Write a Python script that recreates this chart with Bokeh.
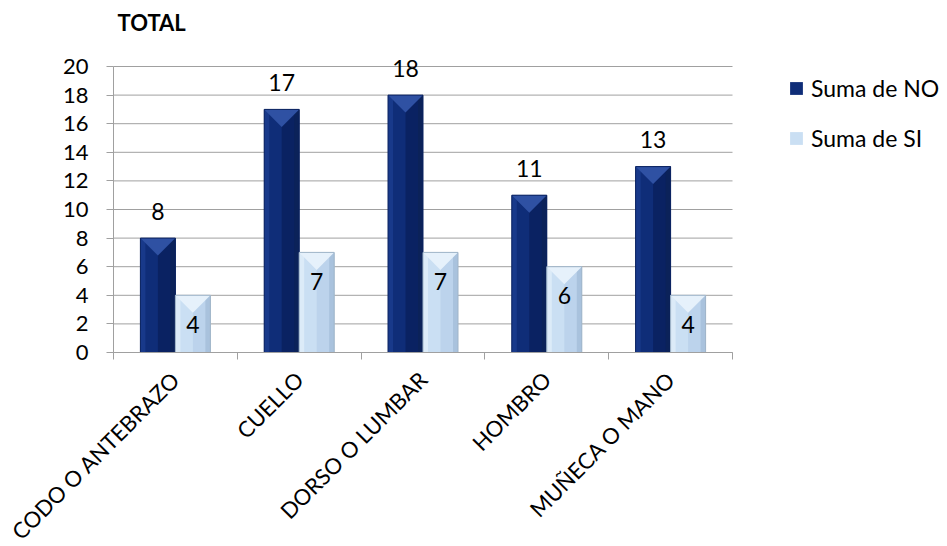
import math
from bokeh.plotting import figure
from bokeh.models import FixedTicker, LabelSet, Label, Legend, LegendItem, ColumnDataSource
from bokeh.core.properties import value
from bokeh.embed import file_html
from bokeh.resources import INLINE

# ---- data ----
categories = ["CODO O ANTEBRAZO", "CUELLO", "DORSO O LUMBAR", "HOMBRO", "MUÑECA O MANO"]
suma_no = [8, 17, 18, 11, 13]
suma_si = [4, 7, 7, 6, 4]
y_ticks = [0, 2, 4, 6, 8, 10, 12, 14, 16, 18, 20]
series_names = ["Suma de NO", "Suma de SI"]
chart_title = "TOTAL"

# ---- layout (pixels) ----
FONT = "Lato"
W, H = 947, 546
L, R, T, B = 113, 732, 66, 352   # plot area of the chart
N = len(categories)
PX_X = N / (R - L)
PX_Y = (y_ticks[-1] - y_ticks[0]) / (B - T)
X0, X1 = -0.5, N - 0.5

# the frame covers the whole canvas; axes are pinned inside it
p = figure(width=W, height=H,
           x_range=(X0 - L * PX_X, X0 + (W - L) * PX_X),
           y_range=(y_ticks[0] - (H - B) * PX_Y, y_ticks[0] + B * PX_Y),
           output_backend="svg", toolbar_location=None,
           min_border_left=0, min_border_right=0, min_border_top=0, min_border_bottom=0)
p.outline_line_color = None
p.background_fill_color = "white"
p.border_fill_color = "white"

AX = "#a0a0a0"

# x axis drawn at y=0: labels at centers, ticks at boundaries (minor ticks)
p.xaxis.fixed_location = y_ticks[0]
p.xaxis.bounds = (X0, X1)
p.xaxis.ticker = FixedTicker(ticks=list(range(N)), minor_ticks=[i - 0.5 for i in range(N + 1)])
p.xaxis.major_label_overrides = {i: c for i, c in enumerate(categories)}
p.xaxis.major_tick_line_color = None
p.xaxis.major_tick_out = 0
p.xaxis.major_tick_in = 0
p.xaxis.minor_tick_out = 7
p.xaxis.minor_tick_in = 0
p.xaxis.minor_tick_line_color = AX
p.xaxis.axis_line_color = AX
p.xaxis.major_label_orientation = math.pi / 4
p.xaxis.major_label_standoff = 16
p.xaxis.major_label_text_font = FONT
p.xaxis.major_label_text_font_size = "22px"
p.xaxis.major_label_text_color = "black"

p.yaxis.fixed_location = X0
p.yaxis.bounds = (y_ticks[0], y_ticks[-1])
p.yaxis.ticker = FixedTicker(ticks=y_ticks, minor_ticks=[])
p.yaxis.major_tick_out = 7
p.yaxis.major_tick_in = 0
p.yaxis.major_tick_line_color = AX
p.yaxis.axis_line_color = AX
p.yaxis.major_label_standoff = 18
p.yaxis.major_label_text_font = FONT
p.yaxis.major_label_text_font_size = "22px"
p.yaxis.major_label_text_color = "black"

p.xgrid.visible = False
p.ygrid.visible = False
# horizontal gridlines limited to the plot area
p.segment(x0=[X0] * len(y_ticks), x1=[X1] * len(y_ticks), y0=y_ticks, y1=y_ticks,
          line_color=AX, line_width=1)

BAR_W = 35 * PX_X
EDGE = 5 * PX_X
DEPTH = 17.5 * PX_Y


def bevel_bar(xl, tops, cols):
    xr = [a + BAR_W for a in xl]
    xc = [a + BAR_W / 2 for a in xl]
    zeros = [0] * len(xl)
    base = p.quad(left=xl, right=xr, bottom=zeros, top=tops, fill_color=cols["main"], line_color=None)
    p.quad(left=xc, right=xr, bottom=zeros, top=tops, fill_color=cols["dark"], line_color=None)
    p.quad(left=xl, right=[a + EDGE for a in xl], bottom=zeros, top=tops, fill_color=cols["hi"], line_color=None)
    p.quad(left=[b - EDGE for b in xr], right=xr, bottom=zeros, top=tops, fill_color=cols["edge"], line_color=None)
    xs = [[a, b, c] for a, b, c in zip(xl, xr, xc)]
    ys = [[t, t, t - DEPTH] for t in tops]
    p.patches(xs, ys, fill_color=cols["top"], line_color=None)
    p.quad(left=xl, right=xr, bottom=zeros, top=tops, fill_color=None, line_color=cols["outline"], line_width=1)
    return base


no_cols = dict(main="#0f2d78", dark="#0a2262", hi="#18398a", edge="#0b2259", top="#2f51a3", outline="#0b2360")
si_cols = dict(main="#cadff3", dark="#bcd3ec", hi="#dcebf8", edge="#a9c2dd", top="#e6f1fb", outline="#9fb4c8")

x_no = [i - BAR_W for i in range(N)]
x_si = [i for i in range(N)]
r_no = bevel_bar(x_no, suma_no, no_cols)
r_si = bevel_bar(x_si, suma_si, si_cols)

src_no = ColumnDataSource(dict(x=[i - BAR_W / 2 for i in range(N)], y=suma_no, t=[str(v) for v in suma_no]))
src_si = ColumnDataSource(dict(x=[i + BAR_W / 2 for i in range(N)], y=suma_si, t=[str(v) for v in suma_si]))
p.add_layout(LabelSet(source=src_no, x="x", y="y", text="t", y_offset=27, text_align="center",
                      text_baseline="middle", text_font=value(FONT), text_font_size="23px",
                      text_color="black"))
p.add_layout(LabelSet(source=src_si, x="x", y="y", text="t", y_offset=-29, text_align="center",
                      text_baseline="middle", text_font=value(FONT), text_font_size="23px",
                      text_color="black"))

p.add_layout(Label(x=X0 + 4 * PX_X, y=y_ticks[-1] + (T - 22) * PX_Y, text=chart_title,
                   text_align="left", text_baseline="middle", text_font=FONT,
                   text_font_size="22px", text_font_style="bold", text_color="black"))

legend = Legend(items=[LegendItem(label=series_names[0], renderers=[r_no]),
                       LegendItem(label=series_names[1], renderers=[r_si])],
                location=(788, H - 82 - 70), orientation="vertical",
                glyph_width=16, glyph_height=16, label_standoff=7, spacing=22,
                padding=0, margin=0, border_line_color=None, background_fill_alpha=0,
                label_text_font=FONT, label_text_font_size="23px", label_text_color="black")
p.add_layout(legend)

open("out.html", "w").write(file_html(p, INLINE))
